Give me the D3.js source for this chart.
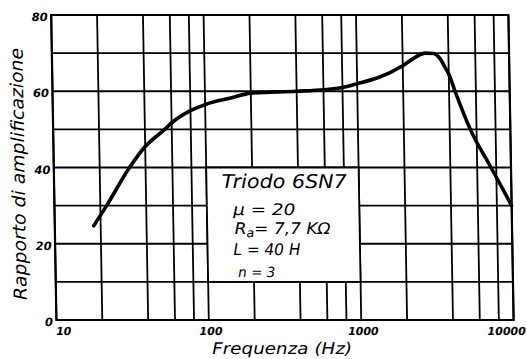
<!DOCTYPE html>
<html>
<head>
<meta charset="utf-8">
<script src="https://cdn.jsdelivr.net/npm/d3@7"></script>
<style>
  html, body { margin: 0; padding: 0; background: #fff; }
  svg { display: block; }
  text { font-family: "DejaVu Sans", sans-serif; font-style: italic; fill: #000; }
  .cond { font-family: "DejaVu Sans Condensed", "DejaVu Sans", sans-serif; }
</style>
</head>
<body>
<script>
// ---- data ----
const freqHz = [18, 22, 31.4, 40, 54, 60, 80, 100, 150, 200, 400, 600, 800, 1000, 1380, 2000, 2420, 2820, 3190, 3530, 3800, 4000, 4380, 5460, 7400, 10000];
const gain   = [24.7, 30, 40, 45.5, 50, 51.7, 54.9, 56.5, 58.3, 59.5, 60, 60.4, 61, 62, 63.6, 66.7, 68.9, 70, 69.9, 68.5, 66.2, 64.5, 60, 50, 40, 30];
const gridFreqs = [10, 20, 40, 60, 80, 100, 200, 400, 600, 800, 1000, 2000, 4000, 6000, 8000, 10000];
const gridGain  = [0, 10, 20, 30, 40, 50, 60, 70, 80];
const xTickLabels = [10, 100, 1000, 10000];
const yTickLabels = [0, 20, 40, 60, 80];
const boxFreqRange = [100, 1000];
const boxGainRange = [10, 40];
const xTitle = "Frequenza (Hz)";
const yTitle = "Rapporto di amplificazione";

// ---- layout ----
const W = 527, H = 359;
const pLeft = 53.8, pRight = 511, pTop = 15, pBottom = 320;

const svg = d3.select("body").append("svg").attr("width", W).attr("height", H);
svg.append("rect").attr("width", W).attr("height", H).attr("fill", "#fff");

const yc = (pTop + pBottom) / 2;
const g = svg.append("g")
  .attr("transform", `translate(0,${yc}) skewX(0.98) translate(0,${-yc})`);

const x = d3.scaleLog().domain([10, 10000]).range([pLeft, pRight]);
const y = d3.scaleLinear().domain([0, 80]).range([pBottom, pTop]);

// grid
g.append("g").selectAll("line").data(gridFreqs).join("line")
  .attr("x1", d => x(d)).attr("x2", d => x(d))
  .attr("y1", pTop).attr("y2", pBottom)
  .attr("stroke", "#000").attr("stroke-width", 1.8);
g.append("g").selectAll("line").data(gridGain).join("line")
  .attr("y1", d => y(d)).attr("y2", d => y(d))
  .attr("x1", pLeft).attr("x2", pRight)
  .attr("stroke", "#000").attr("stroke-width", 1.8);

// frame
g.append("rect")
  .attr("x", pLeft).attr("y", pTop)
  .attr("width", pRight - pLeft).attr("height", pBottom - pTop)
  .attr("fill", "none").attr("stroke", "#000").attr("stroke-width", 2.2);

// curve
const line = d3.line()
  .x((d, i) => x(freqHz[i]))
  .y(d => y(d))
  .curve(d3.curveMonotoneX);
g.append("path").datum(gain)
  .attr("d", line)
  .attr("fill", "none").attr("stroke", "#000")
  .attr("stroke-width", 3.6).attr("stroke-linecap", "round").attr("stroke-linejoin", "round");

// info box
const bx0 = x(boxFreqRange[0]), bx1 = x(boxFreqRange[1]);
const by0 = y(boxGainRange[1]), by1 = y(boxGainRange[0]);
g.append("rect")
  .attr("x", bx0).attr("y", by0).attr("width", bx1 - bx0).attr("height", by1 - by0)
  .attr("fill", "#fff").attr("stroke", "#000").attr("stroke-width", 1.8);

const info = g.append("g").attr("class", "cond");
info.append("text").attr("x", 221.5).attr("y", 188).attr("font-size", 19)
  .attr("textLength", 125).attr("lengthAdjust", "spacingAndGlyphs").text("Triodo 6SN7");
info.append("text").attr("x", 232.5).attr("y", 215).attr("font-size", 16)
  .attr("textLength", 62).attr("lengthAdjust", "spacingAndGlyphs").text("\u03bc = 20");
const ra = info.append("text").attr("x", 233.5).attr("y", 234).attr("font-size", 16)
  .attr("textLength", 96).attr("lengthAdjust", "spacingAndGlyphs");
ra.append("tspan").text("R");
ra.append("tspan").attr("font-size", 12).attr("dy", 3).text("a");
ra.append("tspan").attr("dy", -3).text("= 7,7 K\u03a9");
info.append("text").attr("x", 232).attr("y", 255).attr("font-size", 16)
  .attr("textLength", 67).attr("lengthAdjust", "spacingAndGlyphs").text("L = 40 H");
info.append("text").attr("x", 236.5).attr("y", 277).attr("font-size", 14)
  .attr("textLength", 37).attr("lengthAdjust", "spacingAndGlyphs").text("n = 3");

// y tick labels
g.append("g").selectAll("text").data(yTickLabels).join("text")
  .attr("x", pLeft - 3.5).attr("y", d => y(d) + 2)
  .attr("dy", "0.35em").attr("text-anchor", "end")
  .attr("font-size", 11.5).attr("font-weight", "bold")
  .text(d => d);

// x tick labels
g.append("g").selectAll("text").data(xTickLabels).join("text")
  .attr("x", (d, i) => i === 0 ? x(d) - 0.5 : (i === xTickLabels.length - 1 ? x(d) + 12 : x(d) + 2))
  .attr("y", 335)
  .attr("text-anchor", (d, i) => i === 0 ? "start" : (i === xTickLabels.length - 1 ? "end" : "middle"))
  .attr("font-size", 11).attr("font-weight", "bold")
  .text(d => d);

// axis titles
g.append("text").attr("x", 279).attr("y", 354).attr("text-anchor", "middle")
  .attr("font-size", 16).attr("textLength", 140).attr("lengthAdjust", "spacingAndGlyphs")
  .text(xTitle);
g.append("text").attr("transform", `translate(24.5,174) rotate(-90)`)
  .attr("text-anchor", "middle")
  .attr("font-size", 18).attr("textLength", 252).attr("lengthAdjust", "spacingAndGlyphs")
  .text(yTitle);
</script>
</body>
</html>
